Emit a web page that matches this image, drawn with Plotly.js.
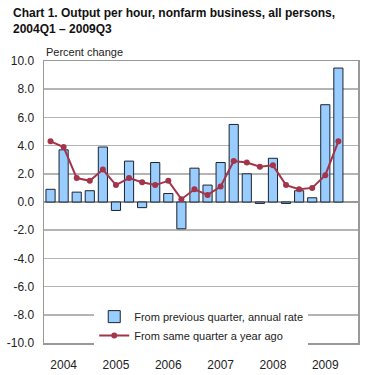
<!DOCTYPE html>
<html>
<head>
<meta charset="utf-8">
<script src="https://cdn.plot.ly/plotly-3.0.1.min.js"></script>
<style>html,body{margin:0;padding:0;background:#fff;}#chart{width:369px;height:375px;}</style>
</head>
<body>
<div id="chart"></div>
<script>
var quarters = ["2004Q1","2004Q2","2004Q3","2004Q4","2005Q1","2005Q2","2005Q3","2005Q4",
  "2006Q1","2006Q2","2006Q3","2006Q4","2007Q1","2007Q2","2007Q3","2007Q4",
  "2008Q1","2008Q2","2008Q3","2008Q4","2009Q1","2009Q2","2009Q3"];
var prevQuarter = [0.9,3.7,0.7,0.8,3.9,-0.6,2.9,-0.4,2.8,0.6,-1.9,2.4,1.2,2.8,5.5,2.0,-0.1,3.1,-0.1,0.8,0.3,6.9,9.5];
var yearAgo = [4.3,3.9,1.7,1.5,2.3,1.2,1.7,1.4,1.2,1.5,0.2,0.9,0.5,1.1,2.9,2.8,2.5,2.6,1.2,0.9,1.0,1.9,4.3];
var yearLabels = ["2004","2005","2006","2007","2008","2009"];
var yearTickQuarters = ["2004Q2","2005Q2","2006Q2","2007Q2","2008Q2","2009Q2"];
var yTicks = [-10,-8,-6,-4,-2,0,2,4,6,8,10];
var titleLines = ["Chart 1. Output per hour, nonfarm business, all persons,", "2004Q1 – 2009Q3"];

var idx = quarters.map(function(q,i){return i;});
var tickIdx = yearTickQuarters.map(function(q){return quarters.indexOf(q);});

var traces = [
  {type:"bar", x:idx, y:prevQuarter, name:"From previous quarter, annual rate",
   width:0.7, marker:{color:"#99ccff", line:{color:"#1b2430", width:1}}},
  {type:"scatter", mode:"lines+markers", x:idx, y:yearAgo, name:"From same quarter a year ago",
   line:{color:"#a3344a", width:2}, marker:{color:"#a3344a", size:6}}
];

function pyFromPx(px){ return (343 - px) / 282; }

var layout = {
  width:369, height:375,
  margin:{l:44, r:11, t:61, b:32},
  paper_bgcolor:"#fff", plot_bgcolor:"#fff",
  font:{family:"Liberation Sans, Arial, sans-serif", color:"#222", size:12},
  showlegend:true,
  legend:{x:0.16, y:0.145, xanchor:"left", yanchor:"top", bgcolor:"#fff",
    font:{size:11, color:"#222"}, tracegroupgap:0},
  bargap:0.3,
  xaxis:{range:[-0.5,23.5], tickmode:"array", tickvals:tickIdx, ticktext:yearLabels,
    showgrid:false, zeroline:false, showline:true, linecolor:"#999", linewidth:1.5, mirror:true,
    ticks:"", tickfont:{size:12, color:"#222"}, ticklabelstandoff:10},
  yaxis:{range:[-10,10], tickmode:"array", tickvals:yTicks,
    ticktext:yTicks.map(function(v){return v.toFixed(1);}),
    showgrid:true, gridcolor:"#b4b4b4", gridwidth:1.5, zeroline:true, zerolinecolor:"#999", zerolinewidth:1.5,
    showline:true, linecolor:"#999", linewidth:1.5, mirror:true, ticks:"",
    tickfont:{size:12, color:"#222"}, ticklabelstandoff:6},
  annotations:[
    {text:"<b>" + titleLines[0] + "</b>", xref:"paper", yref:"paper", x:-33/314, y:pyFromPx(13),
     xanchor:"left", yanchor:"middle", showarrow:false, font:{size:12, color:"#111"}},
    {text:"<b>" + titleLines[1] + "</b>", xref:"paper", yref:"paper", x:-33/314, y:pyFromPx(29),
     xanchor:"left", yanchor:"middle", showarrow:false, font:{size:12, color:"#111"}},
    {text:"Percent change", xref:"paper", yref:"paper", x:0, y:1, xanchor:"left", yanchor:"bottom",
     showarrow:false, font:{size:11, color:"#222"}, yshift:1}]
};

Plotly.newPlot("chart", traces, layout, {displayModeBar:false, staticPlot:true});
</script>
</body>
</html>
